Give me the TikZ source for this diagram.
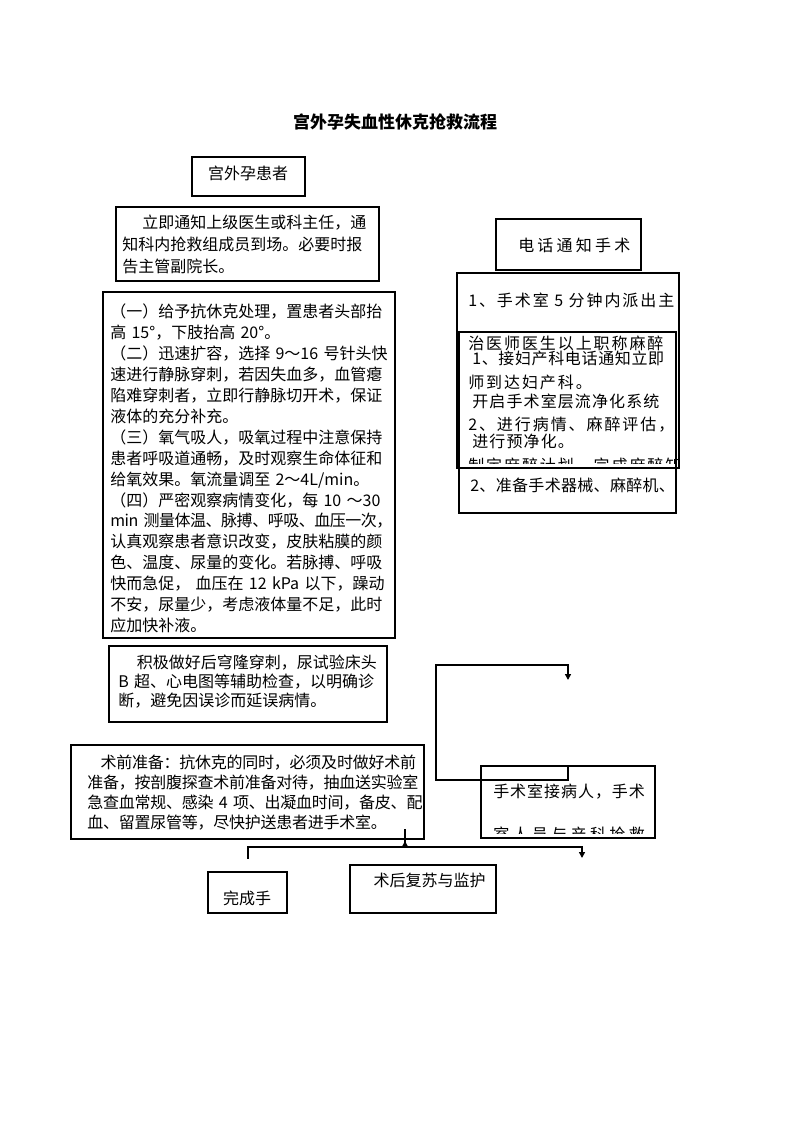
\documentclass[tikz,border=0pt]{standalone}
\usepackage{fontspec}
\setmainfont{Noto Sans CJK SC}
\usetikzlibrary{arrows.meta}

\tikzset{
  box/.style={draw, line width=1.5pt, inner sep=0pt},
  link/.style={line width=1.5pt},
  thinlink/.style={line width=1pt},
  arrowtip/.style={-{Triangle[width=4.5pt,length=4.5pt]}},
  plaintext/.style={font=\fontsize{12pt}{15pt}\selectfont, inner sep=0pt},
  para/.style={align=left, text width=290pt, anchor=west, inner sep=0pt,
    font=\fontsize{12pt}{#1}\selectfont},
  spaced/.style={anchor=west, inner sep=0pt,
    font=\fontsize{12pt}{15pt}\selectfont\addfontfeature{LetterSpace=#1}},
}

\begin{document}
\begin{tikzpicture}[x=0.75pt, y=-0.75pt]
    \fill[white] (0,0) rectangle (794,1123);
    \useasboundingbox (0,0) rectangle (794,1123);

    % title
    \node[plaintext, font=\fontsize{12.75pt}{15pt}\selectfont\bfseries] (title) at (395,122) {宫外孕失血性休克抢救流程};

    % left column
    \node[box, minimum width=84.75pt, minimum height=29.25pt] (patient) at (248.5,176.5) {};
    \node[plaintext] (patientText) at (248,173) {宫外孕患者};

    \node[box, minimum width=197.25pt, minimum height=55.5pt] (notify) at (247.5,244) {};
    \node[para=16.5pt] (notifyText) at (122,244) {\hspace*{15pt}立即通知上级医生或科主任，通\\知科内抢救组成员到场。必要时报\\告主管副院长。};

    \node[box, minimum width=219pt, minimum height=259.5pt] (shock) at (249,465) {};
    \node[para=15.7pt] (shockText) at (110,468.5) {（一）给予抗休克处理，置患者头部抬\\高 15°，下肢抬高 20°。\\（二）迅速扩容，选择 9～16 号针头快\\速进行静脉穿刺，若因失血多，血管瘪\\陷难穿刺者，立即行静脉切开术，保证\\液体的充分补充。\\（三）氧气吸人，吸氧过程中注意保持\\患者呼吸道通畅，及时观察生命体征和\\给氧效果。氧流量调至 2～4L/min。\\（四）严密观察病情变化，每 10 ～30\\{\addfontfeature{LetterSpace=-3}min 测量体温、脉搏、呼吸、血压一次，}\\认真观察患者意识改变，皮肤粘膜的颜\\色、温度、尿量的变化。若脉搏、呼吸\\快而急促， 血压在 12 kPa 以下，躁动\\不安，尿量少，考虑液体量不足，此时\\应加快补液。};

    \node[box, minimum width=208.5pt, minimum height=57pt] (check) at (248,684) {};
    \node[para=14.25pt] (checkText) at (118,682) {\hspace*{14pt}积极做好后穹隆穿刺，尿试验床头\\B 超、心电图等辅助检查，以明确诊\\断，避免因误诊而延误病情。};

    \node[box, minimum width=264.75pt, minimum height=70.5pt] (preop) at (247.5,792) {};
    \node[para=15.2pt, font=\fontsize{12pt}{15.2pt}\selectfont\addfontfeature{LetterSpace=-1.5}] (preopText) at (87,792.5) {\hspace*{10pt}术前准备：抗休克的同时，必须及时做好术前\\准备，按剖腹探查术前准备对待，抽血送实验室\\急查血常规、感染 4 项、出凝血时间，备皮、配\\血、留置尿管等，尽快护送患者进手术室。};

    % right column
    \node[box, minimum width=108.75pt, minimum height=38.25pt] (phone) at (568.5,244.5) {};
    \node[spaced=20] (phoneText) at (518,245) {电话通知手术};

    \node[box, line width=1.7pt, minimum width=166.5pt, minimum height=146.25pt] (callOR) at (568,370.5) {};
    \begin{scope}
        \clip (457,273) rectangle (679,463);
        \foreach \y/\t [count=\i] in {300/1、手术室 5 分钟内派出主, 343/治医师医生以上职称麻醉, 382/师到达妇产科。, 425/2、进行病情、麻醉评估，, 466/制定麻醉计划，完成麻醉知}
            \node[spaced=12] (callLine\i) at (468,\y) {\t};
    \end{scope}

    \node[box, line width=1.1pt, minimum width=162.75pt, minimum height=135.75pt] (prepOR) at (567.5,422.5) {};
    \foreach \x/\y/\s/\t [count=\i] in {472/358/4/1、接妇产科电话通知立即, 472/401/7/开启手术室层流净化系统, 472/441/7/进行预净化。, 470/485/2/2、准备手术器械、麻醉机、}
        \node[spaced=\s] (prepLine\i) at (\x,\y) {\t};

    \node[box, minimum width=130.5pt, minimum height=54pt] (receive) at (568,802) {};
    \node[spaced=6] (receiveLineA) at (493,792) {手术室接病人，手术};
    \begin{scope}
        \clip (481,766) rectangle (655,833);
        \node[spaced=21] (receiveLineB) at (493,834) {室人员与产科抢救};
    \end{scope}

    % bottom
    \node[box, minimum width=59.25pt, minimum height=30.75pt] (done) at (247.5,892.5) {};
    \node[plaintext] (doneText) at (247,898) {完成手};

    \node[box, minimum width=109.5pt, minimum height=36pt] (recovery) at (423,889) {};
    \node[plaintext] (recoveryText) at (429.5,880) {术后复苏与监护};

    % connectors
    \coordinate (recvJoin) at (568,766);
    \coordinate (loopCorner) at (436,665);
    \coordinate (loopEnd) at (568,680);
    \draw[link, arrowtip] (recvJoin) -- ++(0,14) -| (loopCorner) -| (loopEnd);

    \coordinate (prepTick) at (405,829);
    \coordinate (split) at (405,847);
    \coordinate (doneDrop) at (248,859);
    \coordinate (careDrop) at (582,858);
    \draw[link] (prepTick) -- (split);
    \draw[link, arrowtip] (split) -- ++(0,-6);
    \draw[thinlink] (split) -| (doneDrop);
    \draw[link, arrowtip] (split) -| (careDrop);
\end{tikzpicture}
\end{document}
